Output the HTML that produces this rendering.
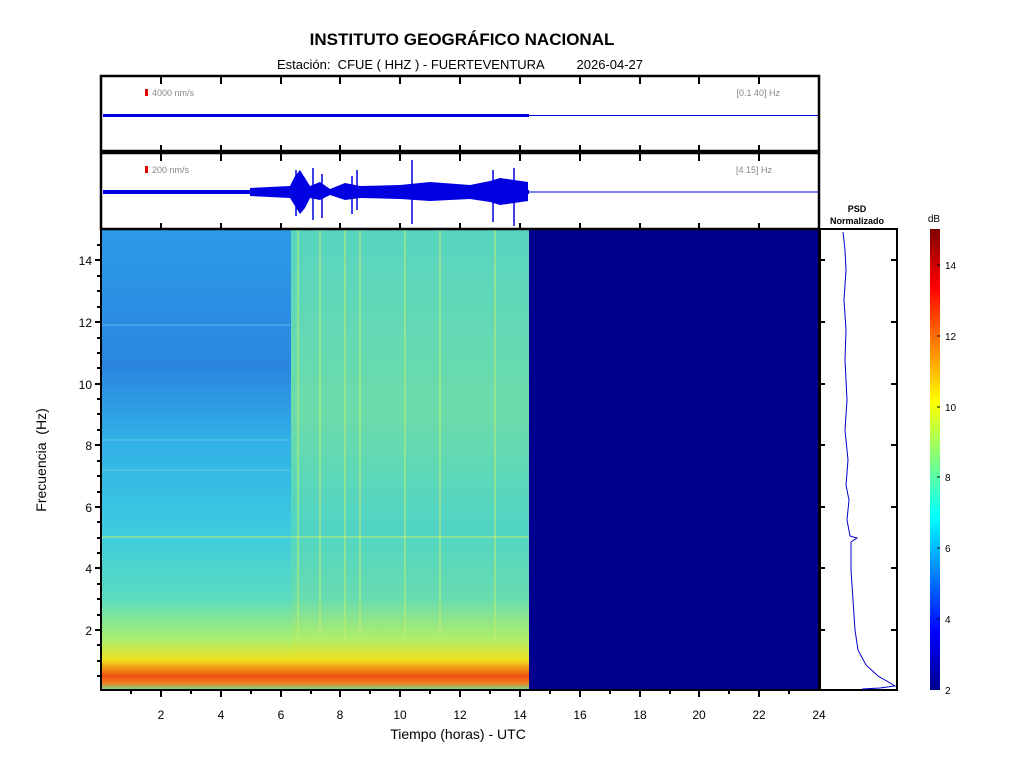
<!DOCTYPE html>
<html><head><style>
body{margin:0;background:#fff;}
svg{display:block;font-family:"Liberation Sans",sans-serif;}
</style></head><body>
<svg width="1024" height="768" viewBox="0 0 1024 768">
<defs>
<linearGradient id="gL" x1="0" y1="0" x2="0" y2="1">
<stop offset="0" stop-color="#2c9ae6"/>
<stop offset="0.3" stop-color="#2a86e0"/>
<stop offset="0.45" stop-color="#30aee6"/>
<stop offset="0.65" stop-color="#3ccae0"/>
<stop offset="0.8" stop-color="#5adcc0"/>
<stop offset="0.89" stop-color="#a8ee70"/>
<stop offset="0.935" stop-color="#f0e020"/>
<stop offset="0.97" stop-color="#f05010"/>
<stop offset="0.985" stop-color="#f08020"/>
<stop offset="1" stop-color="#70e0a0"/>
</linearGradient>
<linearGradient id="gR" x1="0" y1="0" x2="0" y2="1">
<stop offset="0" stop-color="#58d4c0"/>
<stop offset="0.4" stop-color="#6cdcaa"/>
<stop offset="0.65" stop-color="#50d4c4"/>
<stop offset="0.8" stop-color="#68dcb0"/>
<stop offset="0.89" stop-color="#b0ee68"/>
<stop offset="0.935" stop-color="#f0e020"/>
<stop offset="0.97" stop-color="#f05010"/>
<stop offset="0.985" stop-color="#f08020"/>
<stop offset="1" stop-color="#70e0a0"/>
</linearGradient>
<linearGradient id="jet" x1="0" y1="1" x2="0" y2="0">
<stop offset="0" stop-color="#00008f"/>
<stop offset="0.125" stop-color="#0000ff"/>
<stop offset="0.375" stop-color="#00ffff"/>
<stop offset="0.625" stop-color="#ffff00"/>
<stop offset="0.875" stop-color="#ff0000"/>
<stop offset="1" stop-color="#800000"/>
</linearGradient>
</defs>
<text x="462" y="45" font-size="17" font-weight="bold" text-anchor="middle">INSTITUTO GEOGRÁFICO NACIONAL</text>
<text x="460" y="69" font-size="13" text-anchor="middle" xml:space="preserve" style="white-space:pre">Estación:  CFUE ( HHZ ) - FUERTEVENTURA         2026-04-27</text>

<!-- spectrogram -->
<rect x="101" y="229" width="718" height="461" fill="#00008f"/>
<rect x="101" y="229" width="190" height="461" fill="url(#gL)"/>
<rect x="291" y="229" width="238" height="461" fill="url(#gR)"/>
<g stroke="#c0f070" stroke-width="2" opacity="0.5">
<line x1="320" y1="229" x2="320" y2="640"/><line x1="345" y1="229" x2="345" y2="640"/>
<line x1="360" y1="229" x2="360" y2="640"/><line x1="405" y1="229" x2="405" y2="640"/>
<line x1="440" y1="229" x2="440" y2="640"/><line x1="495" y1="229" x2="495" y2="640"/>
<line x1="298" y1="229" x2="298" y2="640"/>
</g>
<g stroke="#9ee0f0" stroke-width="1" opacity="0.5">
<line x1="101" y1="440" x2="290" y2="440"/>
<line x1="101" y1="325" x2="290" y2="325"/><line x1="101" y1="470" x2="290" y2="470"/>
</g>
<line x1="101" y1="537" x2="529" y2="537" stroke="#d0f070" stroke-width="1.5" opacity="0.6"/>
<rect x="101" y="229" width="718" height="461" fill="none" stroke="#000" stroke-width="2"/>

<!-- y axis ticks -->
<g stroke="#000" stroke-width="2">
<line x1="95" y1="260" x2="101" y2="260"/><line x1="95" y1="322" x2="101" y2="322"/>
<line x1="95" y1="384" x2="101" y2="384"/><line x1="95" y1="445" x2="101" y2="445"/>
<line x1="95" y1="507" x2="101" y2="507"/><line x1="95" y1="568" x2="101" y2="568"/>
<line x1="95" y1="630" x2="101" y2="630"/>
</g>
<g stroke="#000" stroke-width="2">
<line x1="97" y1="245" x2="101" y2="245"/><line x1="97" y1="276" x2="101" y2="276"/><line x1="97" y1="291" x2="101" y2="291"/><line x1="97" y1="307" x2="101" y2="307"/>
<line x1="97" y1="338" x2="101" y2="338"/><line x1="97" y1="353" x2="101" y2="353"/><line x1="97" y1="368" x2="101" y2="368"/>
<line x1="97" y1="399" x2="101" y2="399"/><line x1="97" y1="414" x2="101" y2="414"/><line x1="97" y1="430" x2="101" y2="430"/>
<line x1="97" y1="461" x2="101" y2="461"/><line x1="97" y1="476" x2="101" y2="476"/><line x1="97" y1="492" x2="101" y2="492"/>
<line x1="97" y1="522" x2="101" y2="522"/><line x1="97" y1="538" x2="101" y2="538"/><line x1="97" y1="553" x2="101" y2="553"/>
<line x1="97" y1="584" x2="101" y2="584"/><line x1="97" y1="599" x2="101" y2="599"/><line x1="97" y1="615" x2="101" y2="615"/>
<line x1="97" y1="645" x2="101" y2="645"/><line x1="97" y1="661" x2="101" y2="661"/><line x1="97" y1="676" x2="101" y2="676"/>
</g>
<g font-size="12" text-anchor="end">
<text x="92" y="265">14</text><text x="92" y="327">12</text><text x="92" y="389">10</text>
<text x="92" y="450">8</text><text x="92" y="512">6</text><text x="92" y="573">4</text><text x="92" y="635">2</text>
</g>
<text transform="translate(46,460) rotate(-90)" font-size="14" text-anchor="middle" xml:space="preserve" style="white-space:pre">Frecuencia  (Hz)</text>
<!-- x axis -->
<g stroke="#000" stroke-width="2">
<line x1="161" y1="690" x2="161" y2="697"/><line x1="221" y1="690" x2="221" y2="697"/>
<line x1="281" y1="690" x2="281" y2="697"/><line x1="340" y1="690" x2="340" y2="697"/>
<line x1="400" y1="690" x2="400" y2="697"/><line x1="460" y1="690" x2="460" y2="697"/>
<line x1="520" y1="690" x2="520" y2="697"/><line x1="580" y1="690" x2="580" y2="697"/>
<line x1="640" y1="690" x2="640" y2="697"/><line x1="699" y1="690" x2="699" y2="697"/>
<line x1="759" y1="690" x2="759" y2="697"/>
</g>
<g stroke="#000" stroke-width="2">
<line x1="131" y1="690" x2="131" y2="694"/><line x1="191" y1="690" x2="191" y2="694"/><line x1="251" y1="690" x2="251" y2="694"/>
<line x1="311" y1="690" x2="311" y2="694"/><line x1="370" y1="690" x2="370" y2="694"/><line x1="430" y1="690" x2="430" y2="694"/>
<line x1="490" y1="690" x2="490" y2="694"/><line x1="550" y1="690" x2="550" y2="694"/><line x1="610" y1="690" x2="610" y2="694"/>
<line x1="670" y1="690" x2="670" y2="694"/><line x1="729" y1="690" x2="729" y2="694"/><line x1="789" y1="690" x2="789" y2="694"/>
</g>
<g font-size="12" text-anchor="middle">
<text x="161" y="719">2</text><text x="221" y="719">4</text><text x="281" y="719">6</text>
<text x="340" y="719">8</text><text x="400" y="719">10</text><text x="460" y="719">12</text>
<text x="520" y="719">14</text><text x="580" y="719">16</text><text x="640" y="719">18</text>
<text x="699" y="719">20</text><text x="759" y="719">22</text><text x="819" y="719">24</text>
</g>
<text x="458" y="739" font-size="14" text-anchor="middle">Tiempo (horas) - UTC</text>

<!-- trace panels -->
<rect x="101" y="76" width="718" height="75" fill="none" stroke="#000" stroke-width="2.5"/>
<rect x="101" y="153" width="718" height="76" fill="none" stroke="#000" stroke-width="2.5"/>
<g stroke="#000" stroke-width="2">
<line x1="161" y1="76" x2="161" y2="84"/><line x1="221" y1="76" x2="221" y2="84"/><line x1="281" y1="76" x2="281" y2="84"/>
<line x1="340" y1="76" x2="340" y2="84"/><line x1="400" y1="76" x2="400" y2="84"/><line x1="460" y1="76" x2="460" y2="84"/>
<line x1="520" y1="76" x2="520" y2="84"/><line x1="580" y1="76" x2="580" y2="84"/><line x1="640" y1="76" x2="640" y2="84"/>
<line x1="699" y1="76" x2="699" y2="84"/><line x1="759" y1="76" x2="759" y2="84"/>
<line x1="161" y1="153" x2="161" y2="161"/><line x1="221" y1="153" x2="221" y2="161"/><line x1="281" y1="153" x2="281" y2="161"/>
<line x1="340" y1="153" x2="340" y2="161"/><line x1="400" y1="153" x2="400" y2="161"/><line x1="460" y1="153" x2="460" y2="161"/>
<line x1="520" y1="153" x2="520" y2="161"/><line x1="580" y1="153" x2="580" y2="161"/><line x1="640" y1="153" x2="640" y2="161"/>
<line x1="699" y1="153" x2="699" y2="161"/><line x1="759" y1="153" x2="759" y2="161"/>
<line x1="161" y1="229" x2="161" y2="223"/><line x1="221" y1="229" x2="221" y2="223"/><line x1="281" y1="229" x2="281" y2="223"/>
<line x1="340" y1="229" x2="340" y2="223"/><line x1="400" y1="229" x2="400" y2="223"/><line x1="460" y1="229" x2="460" y2="223"/>
<line x1="520" y1="229" x2="520" y2="223"/><line x1="580" y1="229" x2="580" y2="223"/><line x1="640" y1="229" x2="640" y2="223"/>
<line x1="699" y1="229" x2="699" y2="223"/><line x1="759" y1="229" x2="759" y2="223"/>
<line x1="161" y1="151" x2="161" y2="145"/><line x1="221" y1="151" x2="221" y2="145"/><line x1="281" y1="151" x2="281" y2="145"/>
<line x1="340" y1="151" x2="340" y2="145"/><line x1="400" y1="151" x2="400" y2="145"/><line x1="460" y1="151" x2="460" y2="145"/>
<line x1="520" y1="151" x2="520" y2="145"/><line x1="580" y1="151" x2="580" y2="145"/><line x1="640" y1="151" x2="640" y2="145"/>
<line x1="699" y1="151" x2="699" y2="145"/><line x1="759" y1="151" x2="759" y2="145"/>
</g>
<rect x="145" y="89" width="3" height="7" fill="#e00000"/>
<text x="152" y="96" font-size="9" fill="#888">4000 nm/s</text>
<text x="780" y="96" font-size="9" fill="#888" text-anchor="end">[0.1 40] Hz</text>
<rect x="145" y="166" width="3" height="7" fill="#e00000"/>
<text x="152" y="173" font-size="9" fill="#888">200 nm/s</text>
<text x="772" y="173" font-size="9" fill="#888" text-anchor="end">[4 15] Hz</text>
<rect x="103" y="114" width="426" height="3" fill="#0000e0"/>
<line x1="529" y1="115.5" x2="818" y2="115.5" stroke="#0000e0" stroke-width="1"/>
<rect x="103" y="190" width="426" height="4" fill="#0000e0"/>
<path d="M250 188 L290 186 L295 176 L300 170 L305 178 L310 186 L320 182 L330 189 L345 183 L360 186 L400 185 L430 182 L470 185 L490 181 L500 178 L528 182 L528 201 L500 205 L490 202 L470 199 L430 201 L400 199 L360 198 L345 200 L330 195 L320 200 L310 198 L305 208 L300 214 L295 206 L290 198 L250 196 Z" fill="#0000e0"/>
<g stroke="#0000e0" stroke-width="1.5">
<line x1="296" y1="170" x2="296" y2="216"/><line x1="313" y1="168" x2="313" y2="220"/>
<line x1="322" y1="174" x2="322" y2="218"/><line x1="352" y1="176" x2="352" y2="214"/>
<line x1="357" y1="170" x2="357" y2="210"/><line x1="412" y1="160" x2="412" y2="224"/>
<line x1="493" y1="170" x2="493" y2="222"/><line x1="514" y1="168" x2="514" y2="226"/>
</g>
<line x1="529" y1="192" x2="818" y2="192" stroke="#0000e0" stroke-width="1"/>

<!-- PSD -->
<text x="857" y="212" font-size="9" font-weight="bold" text-anchor="middle">PSD</text>
<text x="857" y="224" font-size="9" font-weight="bold" text-anchor="middle">Normalizado</text>
<rect x="820" y="229" width="77" height="461" fill="#fff" stroke="#000" stroke-width="2"/>
<g stroke="#000" stroke-width="2">
<line x1="820" y1="260" x2="825" y2="260"/><line x1="820" y1="322" x2="825" y2="322"/><line x1="820" y1="384" x2="825" y2="384"/>
<line x1="820" y1="445" x2="825" y2="445"/><line x1="820" y1="507" x2="825" y2="507"/><line x1="820" y1="568" x2="825" y2="568"/><line x1="820" y1="630" x2="825" y2="630"/>
<line x1="891" y1="260" x2="897" y2="260"/><line x1="891" y1="322" x2="897" y2="322"/><line x1="891" y1="384" x2="897" y2="384"/>
<line x1="891" y1="445" x2="897" y2="445"/><line x1="891" y1="507" x2="897" y2="507"/><line x1="891" y1="568" x2="897" y2="568"/><line x1="891" y1="630" x2="897" y2="630"/>
</g>
<polyline fill="none" stroke="#0000d0" stroke-width="1" points="843,232 845,250 846,270 844,300 846,330 845,360 847,400 845,430 848,460 846,485 849,500 847,520 850,536 857,538 851,542 851,570 853,600 855,630 858,650 866,665 878,676 890,683 895,686 880,688 862,689"/>

<!-- colorbar -->
<rect x="930" y="229" width="10" height="461" fill="url(#jet)"/>
<text x="934" y="222" font-size="10" text-anchor="middle">dB</text>
<g stroke="#000" stroke-width="1">
<line x1="937" y1="619" x2="940" y2="619"/><line x1="937" y1="548" x2="940" y2="548"/><line x1="937" y1="477" x2="940" y2="477"/>
<line x1="937" y1="407" x2="940" y2="407"/><line x1="937" y1="336" x2="940" y2="336"/><line x1="937" y1="265" x2="940" y2="265"/>
</g>
<g font-size="10">
<text x="945" y="694">2</text><text x="945" y="623">4</text><text x="945" y="552">6</text>
<text x="945" y="481">8</text><text x="945" y="411">10</text><text x="945" y="340">12</text><text x="945" y="269">14</text>
</g>
</svg>
</body></html>
